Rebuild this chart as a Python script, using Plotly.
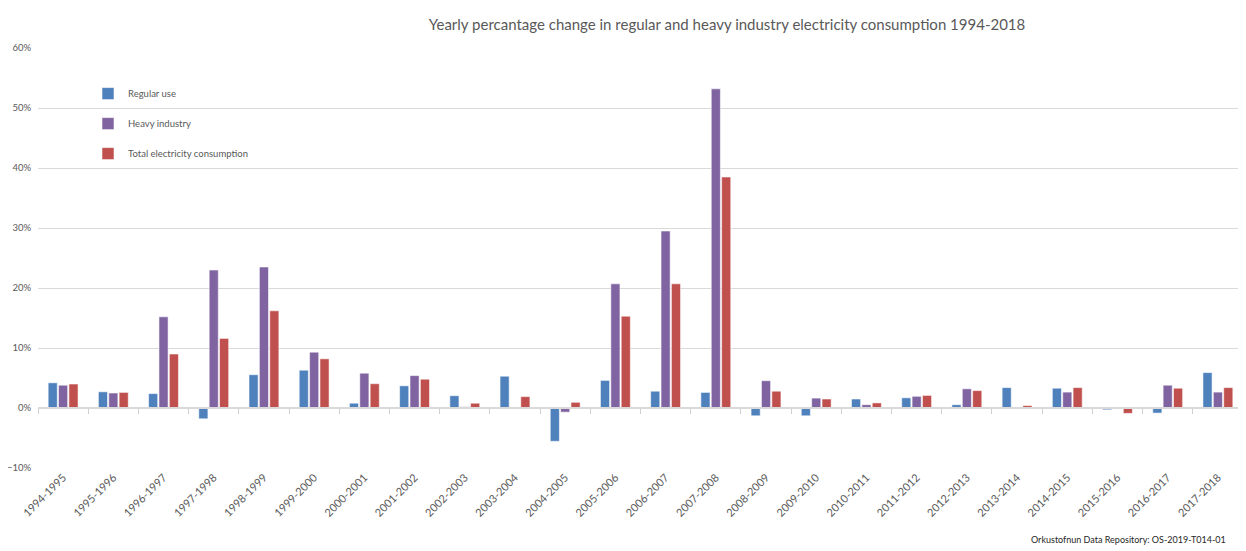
import plotly.graph_objects as go

categories = ["1994-1995", "1995-1996", "1996-1997", "1997-1998", "1998-1999", "1999-2000",
              "2000-2001", "2001-2002", "2002-2003", "2003-2004", "2004-2005", "2005-2006",
              "2006-2007", "2007-2008", "2008-2009", "2009-2010", "2010-2011", "2011-2012",
              "2012-2013", "2013-2014", "2014-2015", "2015-2016", "2016-2017", "2017-2018"]

regular_use = [4.2, 2.7, 2.4, -1.8, 5.55, 6.3, 0.8, 3.7, 2.05, 5.3, -5.55, 4.6,
               2.8, 2.6, -1.3, -1.3, 1.5, 1.7, 0.55, 3.4, 3.3, -0.3, -0.85, 5.9]
heavy_industry = [3.8, 2.5, 15.2, 23.0, 23.5, 9.3, 5.8, 5.4, 0.2, 0.05, -0.7, 20.7,
                  29.5, 53.2, 4.55, 1.65, 0.55, 1.95, 3.2, 0.05, 2.65, -0.1, 3.8, 2.65]
total_consumption = [4.0, 2.6, 9.0, 11.6, 16.2, 8.2, 4.05, 4.8, 0.8, 1.9, 0.95, 15.3,
                     20.7, 38.5, 2.8, 1.5, 0.85, 2.1, 2.9, 0.4, 3.4, -0.9, 3.3, 3.4]

series_names = ["Regular use", "Heavy industry", "Total electricity consumption"]
series_colors = ["#4F81BD", "#8064A2", "#C0504D"]
series_values = [regular_use, heavy_industry, total_consumption]

FONT = "Lato, 'Open Sans', sans-serif"

fig = go.Figure()
for i, (name, color, vals) in enumerate(zip(series_names, series_colors, series_values)):
    fig.add_trace(go.Bar(
        x=categories, y=[v / 100 for v in vals], name=name,
        legendgroup=str(i),
        marker=dict(color=color, line=dict(color="rgba(255,255,255,0.7)", width=0.8)),
    ))

fig.add_trace(go.Bar(x=categories, y=[0] * len(categories), xaxis="x2", showlegend=False,
                     hoverinfo="skip", marker=dict(color="rgba(0,0,0,0)")))

# page body adds an 8px margin, so the figure is sized to fill the rest of the window
fig.update_layout(
    width=1238, height=543,
    margin=dict(l=30, r=3, t=40, b=83, autoexpand=False),
    paper_bgcolor="white", plot_bgcolor="white",
    font=dict(family=FONT, color="#595959"),
    title=dict(text="Yearly percantage change in regular and heavy industry electricity consumption 1994-2018",
               x=0.5808, xanchor="center", xref="container", y=0.969, yanchor="middle",
               font=dict(size=15, color="#595959", family=FONT)),
    barmode="group", bargap=0.38, bargroupgap=0.12,
    showlegend=True,
    legend=dict(x=0.0415, y=0.926, xanchor="left", yanchor="top",
                bgcolor="rgba(0,0,0,0)", font=dict(size=9.5, color="#595959", family=FONT),
                tracegroupgap=11, traceorder="grouped"),
    xaxis=dict(showgrid=False, showline=False, ticks="", tickangle=-45, automargin=False,
               tickfont=dict(size=11, color="#595959"), zeroline=False),
    xaxis2=dict(matches="x", overlaying="x", anchor="free", position=60/420, automargin=False,
                showline=True, linecolor="#D9D9D9", linewidth=1.5,
                ticks="outside", ticklen=5, tickcolor="#D0D0D0", tickwidth=1.3, tickson="boundaries",
                showticklabels=False, showgrid=False, zeroline=False),
    yaxis=dict(range=[-0.1, 0.6], dtick=0.1, tickformat=".0%", showgrid=True, automargin=False,
               gridcolor="#D9D9D9", gridwidth=1.2, zeroline=False, showline=False,
               tickfont=dict(size=9.5, color="#595959"), ticklen=4, ticks="outside",
               tickcolor="rgba(0,0,0,0)"),
    annotations=[dict(text="Orkustofnun Data Repository: OS-2019-T014-01", xref="paper", yref="paper",
                      x=0.9876, y=-0.171, xanchor="right", yanchor="middle", showarrow=False,
                      font=dict(size=9, color="#262626", family=FONT))],
)

fig.write_html("out.html")
